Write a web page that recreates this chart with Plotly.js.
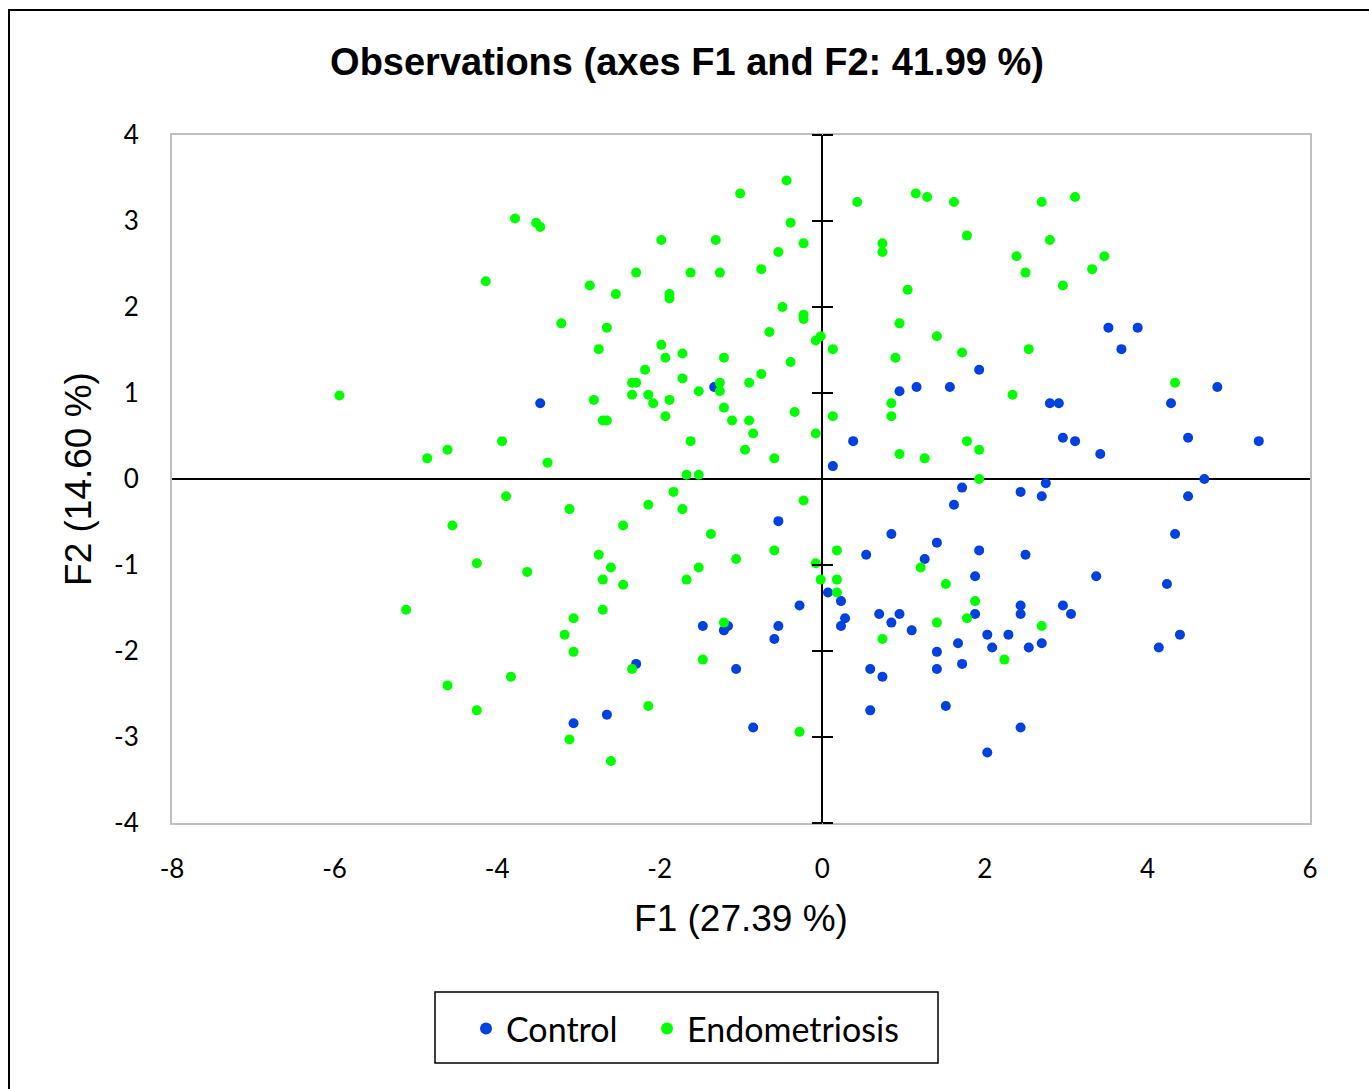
<!DOCTYPE html>
<html>
<head>
<meta charset="utf-8">
<script src="https://cdn.plot.ly/plotly-3.0.1.min.js"></script>
<style>
  html, body { margin: 0; padding: 0; background: #fff; overflow: hidden; }
  #chart { position: absolute; left: 0; top: 0; width: 1369px; height: 1089px; }
  #frame { position: absolute; left: 8px; top: 9px; width: 1400px; height: 1200px;
           border-left: 2px solid #000; border-top: 2px solid #000; pointer-events: none; }
</style>
</head>
<body>
<div id="chart"></div>
<div id="frame"></div>
<script>
// ---- Data (F1, F2 factor scores) ----
const controlF1 = [-3.47,-1.33,0.95,1.16,0.38,0.13,
  3.52,3.88,3.68,1.93,1.57,4.86,2.80,2.91,4.29,2.96,3.11,3.42,4.50,5.37,4.70,
  -0.54,0.85,0.54,1.26,0.07,0.23,-0.28,0.28,0.23,0.70,0.95,0.85,1.10,-1.47,-1.16,-1.21,-0.54,-0.59,-1.06,-2.29,0.59,0.74,0.59,-3.06,-2.65,-0.85,
  2.75,1.72,2.44,2.70,4.50,1.62,4.34,1.41,1.93,2.50,1.88,3.37,4.24,2.44,2.44,2.96,3.06,1.88,2.03,2.29,1.67,2.09,2.54,2.70,1.41,1.41,1.72,4.40,4.14,1.52,2.44,2.03];
const controlF2 = [0.88,1.07,1.02,1.07,0.44,0.15,
  1.76,1.76,1.51,1.27,1.07,1.07,0.88,0.88,0.88,0.48,0.44,0.29,0.48,0.44,0.00,
  -0.49,-0.64,-0.88,-0.93,-1.32,-1.42,-1.47,-1.62,-1.71,-1.57,-1.57,-1.67,-1.76,-1.71,-1.71,-1.76,-1.71,-1.86,-2.21,-2.15,-2.21,-2.30,-2.69,-2.84,-2.74,-2.89,
  -0.05,-0.10,-0.15,-0.20,-0.20,-0.30,-0.64,-0.74,-0.83,-0.88,-1.13,-1.13,-1.22,-1.47,-1.57,-1.47,-1.57,-1.57,-1.81,-1.81,-1.91,-1.96,-1.96,-1.91,-2.01,-2.21,-2.15,-1.81,-1.96,-2.64,-2.89,-3.18];

const endoF1 = [-3.78,-3.52,-3.47,-4.14,-5.94,-3.94,-4.61,-4.86,-3.38,
  -0.44,-1.01,0.43,1.15,1.29,-0.39,-1.98,-1.31,-0.23,-0.54,0.74,0.74,-2.29,-1.62,-1.26,-0.75,-2.86,-2.54,-1.88,-1.88,1.05,-0.49,-0.23,-0.23,-3.21,-2.65,-0.65,-0.02,-0.08,0.13,0.95,-2.75,-1.98,-1.93,-1.72,-1.21,-0.39,0.90,-2.18,-1.72,-0.75,-2.34,-2.29,-1.26,-1.26,-1.52,-0.90,-2.81,-2.34,-2.14,-2.08,-1.88,-1.21,0.85,0.85,-2.70,-2.65,-1.93,-1.11,-0.90,-0.34,0.13,-0.85,-0.08,-1.62,-0.95,-0.59,0.95,1.26,-1.67,-1.52,
  1.62,2.70,3.11,1.78,2.80,2.39,3.47,2.50,3.32,2.96,1.41,1.72,2.54,2.34,4.34,1.78,1.93,1.93,
  -3.89,-4.55,-4.25,-3.63,-5.12,-3.83,-4.61,-4.25,
  -1.83,-3.11,-2.14,-1.72,-0.23,-2.45,-1.37,-2.75,-1.06,-0.59,0.18,-2.60,-1.52,-0.08,1.21,-2.70,-2.45,-1.67,-0.02,0.18,0.18,-2.70,0.74,-3.06,-3.17,-3.06,-1.21,-1.47,-2.34,-2.14,-3.11,-0.28,-2.60,
  1.52,1.88,1.78,1.41,2.70,2.24];
const endoF2 = [3.03,2.98,2.93,2.30,0.97,0.44,0.34,0.24,0.19,
  3.47,3.32,3.22,3.32,3.28,2.98,2.78,2.78,2.74,2.64,2.74,2.64,2.40,2.40,2.40,2.44,2.25,2.15,2.15,2.10,2.20,2.00,1.91,1.86,1.81,1.76,1.71,1.66,1.61,1.51,1.81,1.51,1.56,1.41,1.46,1.41,1.36,1.41,1.27,1.17,1.22,1.12,1.12,1.12,1.02,1.02,1.12,0.92,0.98,0.98,0.88,0.92,0.83,0.88,0.73,0.68,0.68,0.73,0.68,0.68,0.78,0.73,0.53,0.53,0.44,0.34,0.24,0.29,0.24,0.05,0.05,
  3.22,3.22,3.28,2.83,2.78,2.59,2.59,2.40,2.44,2.25,1.66,1.47,1.51,0.98,1.12,0.44,0.34,0.00,
  -0.20,-0.54,-0.98,-1.08,-1.52,-2.30,-2.40,-2.69,
  -0.15,-0.35,-0.30,-0.35,-0.25,-0.54,-0.64,-0.88,-0.93,-0.83,-0.83,-1.03,-1.03,-0.98,-1.03,-1.17,-1.23,-1.17,-1.17,-1.17,-1.32,-1.52,-1.86,-1.62,-1.81,-2.01,-1.67,-2.10,-2.21,-2.64,-3.03,-2.94,-3.28,
  -1.22,-1.42,-1.62,-1.67,-1.71,-2.10];

const groupNames = ["Control", "Endometriosis"];
const xTicks = [-8,-6,-4,-2,0,2,4,6];
const yTicks = [-4,-3,-2,-1,0,1,2,3,4];
const chartTitle = "Observations (axes F1 and F2: 41.99 %)";
const xTitle = "F1 (27.39 %)";
const yTitle = "F2 (14.60 %)";

const BLUE = "#0041E0";
const GREEN = "#00FF00";
const tickFont = { family: "Lato, 'Open Sans', sans-serif", size: 26, color: "#000" };
const titleFamily = "Liberation Sans, Arial, sans-serif";
const legendFont = { family: "Lato, 'Open Sans', sans-serif", size: 34, color: "#000" };

const traces = [
  { type: "scatter", mode: "markers", name: groupNames[0], x: controlF1, y: controlF2,
    marker: { color: BLUE, size: 10 }, hoverinfo: "x+y", legend: "legend" },
  { type: "scatter", mode: "markers", name: groupNames[1], x: endoF1, y: endoF2,
    marker: { color: GREEN, size: 10 }, hoverinfo: "x+y", legend: "legend2" },
  // empty carriers for the cross-tick axes on the vertical zero line
  { type: "scatter", mode: "markers", x: [], y: [], yaxis: "y2", showlegend: false, hoverinfo: "skip" },
  { type: "scatter", mode: "markers", x: [], y: [], yaxis: "y3", showlegend: false, hoverinfo: "skip" }
];

const zeroPos = (0 - (-8)) / (6 - (-8));
const crossAxis = (side) => ({
  overlaying: "y", anchor: "free", position: zeroPos, side: side,
  range: [-4, 4], tickvals: yTicks, showticklabels: false,
  ticks: "outside", ticklen: 10, tickwidth: 1.5, tickcolor: "#000",
  showgrid: false, zeroline: false, showline: false, fixedrange: true
});

// plot area in pixels: x 172..1310, y 135..823 -> helpers for the legend frame
const px2x = (px) => (px - 172) / 1138;
const px2y = (py) => (823 - py) / 688;

const legendBase = (leftPx) => ({
  orientation: "h", x: px2x(leftPx), xanchor: "left", y: px2y(1029), yanchor: "middle",
  borderwidth: 0, bgcolor: "rgba(0,0,0,0)", font: legendFont, itemsizing: "constant"
});

const layout = {
  width: 1369, height: 1089,
  paper_bgcolor: "#fff", plot_bgcolor: "#fff",
  margin: { l: 172, r: 59, t: 135, b: 266, autoexpand: false },
  title: { text: "<b>" + chartTitle + "</b>", xref: "container", x: 687 / 1369, xanchor: "center",
           yref: "container", y: 1 - 62 / 1089, yanchor: "middle",
           font: { family: titleFamily, size: 38, color: "#000" } },
  xaxis: {
    range: [-8, 6], tickvals: xTicks, ticktext: xTicks.map(String),
    showgrid: false, zeroline: true, zerolinecolor: "#000", zerolinewidth: 1.5,
    showline: true, mirror: true, linecolor: "#BFBFBF", linewidth: 2,
    ticks: "", tickfont: tickFont, ticklabelstandoff: 22,
    title: { text: xTitle, standoff: 22, font: { family: titleFamily, size: 37, color: "#000" } },
    automargin: false, fixedrange: true
  },
  yaxis: {
    range: [-4, 4], tickvals: yTicks, ticktext: yTicks.map(String),
    showgrid: false, zeroline: true, zerolinecolor: "#000", zerolinewidth: 1.5,
    showline: true, mirror: true, linecolor: "#BFBFBF", linewidth: 2,
    ticks: "", tickfont: tickFont, ticklabelstandoff: 26,
    title: { text: yTitle, standoff: 11, font: { family: titleFamily, size: 37, color: "#000" } },
    automargin: false, fixedrange: true
  },
  yaxis2: crossAxis("left"),
  yaxis3: crossAxis("right"),
  showlegend: true,
  legend: legendBase(466),
  legend2: legendBase(647),
  shapes: [
    { type: "rect", xref: "paper", yref: "paper",
      x0: px2x(435), x1: px2x(938), y0: px2y(1063), y1: px2y(992),
      line: { color: "#000", width: 1.5 }, fillcolor: "rgba(0,0,0,0)", layer: "above" }
  ],
  hovermode: "closest"
};

Plotly.newPlot("chart", traces, layout, { displayModeBar: false, staticPlot: false });
</script>
</body>
</html>
